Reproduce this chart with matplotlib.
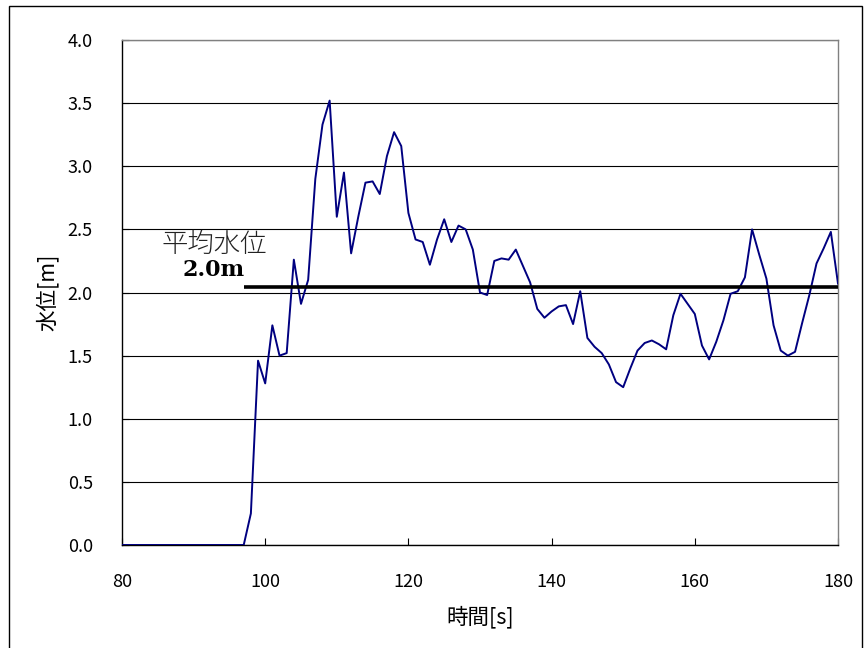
import matplotlib
matplotlib.use("Agg")
import matplotlib.pyplot as plt
from matplotlib.patches import Rectangle

plt.rcParams['font.family'] = ['Noto Sans CJK JP', 'DejaVu Sans']

# time [s] and water level [m]
time_s = list(range(80, 181))
level_m = [0.0] * 18 + [
    0.25, 1.46, 1.28, 1.74, 1.50, 1.52, 2.26, 1.91, 2.10, 2.90,   # 98-107
    3.33, 3.52, 2.60, 2.95, 2.31, 2.60, 2.87, 2.88, 2.78, 3.08,   # 108-117
    3.27, 3.16, 2.63, 2.42, 2.40, 2.22, 2.42, 2.58, 2.40, 2.53,   # 118-127
    2.50, 2.34, 2.00, 1.98, 2.25, 2.27, 2.26, 2.34, 2.21, 2.08,   # 128-137
    1.87, 1.80, 1.85, 1.89, 1.90, 1.75, 2.01, 1.64, 1.57, 1.52,   # 138-147
    1.43, 1.29, 1.25, 1.40, 1.54, 1.60, 1.62, 1.59, 1.55, 1.82,   # 148-157
    1.99, 1.91, 1.83, 1.58, 1.47, 1.61, 1.78, 1.99, 2.01, 2.12,   # 158-167
    2.50, 2.30, 2.11, 1.74, 1.54, 1.50, 1.53, 1.76, 1.98, 2.23,   # 168-177
    2.35, 2.48, 2.07,                                             # 178-180
]

# mean water level after arrival of the wave
mean_start = 97
mean_level = 2.04

x_ticks = [80, 100, 120, 140, 160, 180]
y_ticks = [0.0, 0.5, 1.0, 1.5, 2.0, 2.5, 3.0, 3.5, 4.0]

fig = plt.figure(figsize=(8.65, 6.48), dpi=100)
ax = fig.add_axes([122 / 865, 1 - 545 / 648, (838 - 122) / 865, (545 - 40) / 648])

# outer frame of the chart
fig.patches.append(Rectangle((9 / 865, -0.05), (862 - 9) / 865, 1.05 - 6 / 648,
                             transform=fig.transFigure, fill=False,
                             edgecolor='black', linewidth=1.0))

ax.set_xlim(80, 180)
ax.set_ylim(0, 4.0)
ax.set_xticks(x_ticks)
ax.set_yticks(y_ticks)
ax.set_xticklabels([str(v) for v in x_ticks])
ax.set_yticklabels([f"{v:.1f}" for v in y_ticks])
ax.tick_params(axis='both', direction='in', length=5, width=0.8,
               labelsize=13, colors='black')
ax.tick_params(axis='x', pad=20)
ax.tick_params(axis='y', pad=21)

ax.yaxis.grid(True, color='black', linewidth=0.8)
ax.set_axisbelow(True)

for side in ('top', 'right'):
    ax.spines[side].set_color('#808080')
    ax.spines[side].set_linewidth(1.0)
for side in ('left', 'bottom'):
    ax.spines[side].set_color('black')
    ax.spines[side].set_linewidth(1.0)

ax.plot(time_s, level_m, color='#000080', linewidth=1.4, zorder=3)
ax.plot([mean_start, 180], [mean_level, mean_level], color='black',
        linewidth=2.6, zorder=4, solid_capstyle='butt')

ax.text(0.055, 0.597, '平均水位', transform=ax.transAxes, fontsize=19,
        fontweight='light', ha='left', va='center', color='#222222')
ax.text(0.084, 0.545, f'{mean_level:.1f}m', transform=ax.transAxes,
        fontsize=16, fontweight='bold', family='DejaVu Serif',
        ha='left', va='center')

ax.set_xlabel('時間[s]', fontsize=15.5, va='center')
ax.xaxis.set_label_coords(0.5, -0.1426)
ax.set_ylabel('水位[m]', fontsize=15.5, va='center')
ax.yaxis.set_label_coords(-0.1047, 0.5)

fig.savefig('out.png', dpi=100)
